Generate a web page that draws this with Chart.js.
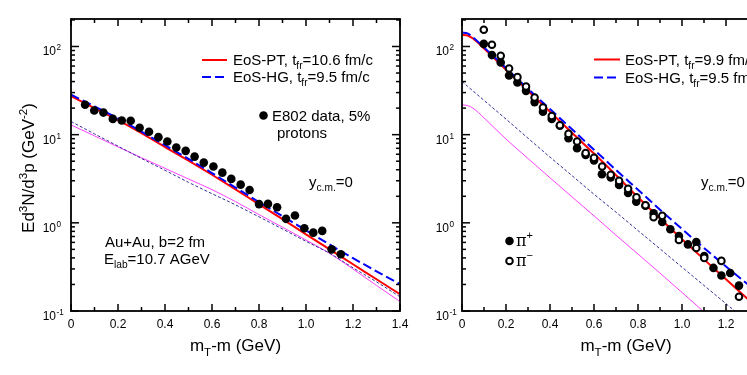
<!DOCTYPE html>
<html>
<head>
<meta charset="utf-8">
<script src="https://cdn.jsdelivr.net/npm/chart.js@4.4.0/dist/chart.umd.min.js"></script>
<style>
    body { margin: 0; background: #fff; overflow: hidden; width: 747px; height: 375px; position: relative; }
    canvas { position: absolute; top: 0; }
    #protonChart { left: 0; }
    #pionChart { left: 420px; }
</style>
</head>
<body>
<canvas id="protonChart" width="440" height="375"></canvas>
<canvas id="pionChart" width="400" height="375"></canvas>
<script>
// --- sol panel: protonlar (E802) ---
const protonMt = [0.060, 0.099, 0.138, 0.178, 0.216, 0.254, 0.292, 0.332, 0.372, 0.410, 0.448, 0.488, 0.526, 0.565, 0.606,
    0.644, 0.682, 0.722, 0.760, 0.800, 0.838, 0.877, 0.915, 0.953, 0.993, 1.031, 1.069, 1.109, 1.148];
const protonYield = [21.8, 18.8, 17.8, 15.1, 14.5, 14.4, 12.0, 10.8, 9.37, 8.35, 7.14, 6.55, 5.64, 4.82, 4.35,
    3.71, 3.15, 2.71, 2.36, 1.63, 1.64, 1.50, 1.11, 1.21, 0.869, 0.774, 0.81, 0.50, 0.44];

const curveMtL = [0, 0.1, 0.2, 0.3, 0.4, 0.5, 0.6, 0.7, 0.8, 0.9, 1.0, 1.1, 1.2, 1.3, 1.4];
const ptLeft = [27.4, 20.0, 14.6, 10.4, 7.24, 5.07, 3.51, 2.40, 1.62, 1.10, 0.741, 0.501, 0.339, 0.229, 0.155];
const hgLeft = [28.5, 20.9, 15.3, 10.8, 7.59, 5.31, 3.67, 2.51, 1.72, 1.19, 0.822, 0.569, 0.398, 0.282, 0.202];
const thinBlueLeft = [14.1, 10.2, 7.41, 5.37, 3.94, 2.88, 2.14, 1.60, 1.17, 0.851, 0.617, 0.452, 0.309, 0.214, 0.145];
const magentaLeft = [12.9, 9.68, 7.26, 5.48, 4.15, 3.14, 2.38, 1.74, 1.24, 0.891, 0.638, 0.452, 0.299, 0.195, 0.128];

// --- sağ panel: pionlar ---
const piPlusMt = [0.099, 0.136, 0.176, 0.214, 0.252, 0.291, 0.330, 0.368, 0.408, 0.445, 0.484, 0.523, 0.562, 0.600, 0.636,
    0.676, 0.714, 0.755, 0.792, 0.834, 0.871, 0.910, 0.947, 0.986, 1.027, 1.065, 1.101, 1.143, 1.179, 1.219, 1.259];
const piPlusYield = [107, 79.9, 65.8, 46.9, 39.0, 31.4, 23.4, 18.2, 15.1, 12.6, 9.12, 7.03, 5.90, 5.11, 3.56,
    3.28, 2.69, 2.18, 1.74, 1.56, 1.28, 1.02, 0.846, 0.710, 0.569, 0.607, 0.42, 0.308, 0.253, 0.270, 0.194];
const piMinusMt = [0.099, 0.136, 0.176, 0.214, 0.252, 0.291, 0.330, 0.368, 0.408, 0.445, 0.484, 0.523, 0.562, 0.600, 0.637,
    0.676, 0.714, 0.755, 0.793, 0.834, 0.871, 0.910, 0.986, 1.065, 1.101, 1.179, 1.259];
const piMinusYield = [155, 104.5, 78.3, 56.2, 44.9, 35.2, 26.4, 20.3, 16.3, 12.8, 10.2, 8.36, 6.17, 5.46, 4.35,
    3.50, 2.99, 2.43, 1.95, 1.58, 1.16, 1.20, 0.64, 0.519, 0.40, 0.370, 0.145];

const curveMtR = [0, 0.025, 0.05, 0.1, 0.2, 0.3, 0.4, 0.5, 0.6, 0.7, 0.8, 0.9, 1.0, 1.1, 1.2, 1.3, 1.4];
const ptRight = [136, 133, 123, 94.6, 54.6, 31.5, 18.2, 10.5, 6.10, 3.47, 1.95, 1.12, 0.653, 0.385, 0.229, 0.136, 0.0813];
const hgRight = [144, 141, 127, 97.7, 56.9, 33.1, 19.5, 11.5, 6.76, 3.98, 2.37, 1.41, 0.851, 0.519, 0.320, 0.200, 0.126];
const thinBlueRight = [40.1, 35.4, 31.3, 24.5, 15.0, 9.12, 5.56, 3.43, 2.11, 1.32, 0.817, 0.507, 0.314, 0.195, 0.121, 0.075, 0.0468];
const magentaRight = [21.8, 21.4, 20.0, 15.5, 8.91, 5.37, 3.24, 1.97, 1.20, 0.724, 0.442, 0.269, 0.162, 0.0977, 0.0589, 0.0355, 0.0214];

// eksen etiketleri
const xTickLabels = ['0', '0.2', '0.4', '0.6', '0.8', '1.0', '1.2', '1.4'];
const yTickExp = ['-1', '0', '1', '2'];

const SANS = '"Liberation Sans", Arial, sans-serif';
const RED = '#ff0000', BLUE = '#0000ff', NAVY = '#30309a', MAGENTA = '#ff40ff';

function pts(xs, ys) {
    return xs.map((x, i) => ({ x: x, y: ys[i] }));
}

// alt/üst simgeli metin
function richWidth(ctx, parts, size) {
    let w = 0;
    parts.forEach(p => {
        ctx.font = (p[1] ? size * 0.68 : size) + 'px ' + (p[2] || SANS);
        w += ctx.measureText(p[0]).width;
    });
    return w;
}

function drawRich(ctx, parts, x, y, size, align) {
    let cx = x;
    if (align === 'right') cx = x - richWidth(ctx, parts, size);
    if (align === 'center') cx = x - richWidth(ctx, parts, size) / 2;
    ctx.textAlign = 'left';
    ctx.textBaseline = 'alphabetic';
    parts.forEach(p => {
        ctx.font = (p[1] ? size * 0.68 : size) + 'px ' + (p[2] || SANS);
        let dy = 0;
        if (p[1] === 'sub') dy = size * 0.28;
        if (p[1] === 'sup') dy = -size * 0.42;
        ctx.fillText(p[0], cx, y + dy);
        cx += ctx.measureText(p[0]).width;
    });
}

function seg(ctx, x1, y1, x2, y2) {
    ctx.beginPath();
    ctx.moveTo(x1, y1);
    ctx.lineTo(x2, y2);
    ctx.stroke();
}

function drawAxes(chart, labelGap) {
    const ctx = chart.ctx;
    const a = chart.chartArea;
    const x = chart.scales.x, y = chart.scales.y;
    ctx.save();
    ctx.fillStyle = '#000';
    ctx.strokeStyle = '#000';
    ctx.lineWidth = 1.5;
    // x tikleri
    for (let i = 0; i <= 15; i++) {
        const v = i / 10;
        if (v > x.max + 1e-9) break;
        const px = x.getPixelForValue(v);
        const len = i % 2 === 0 ? 7 : 4;
        seg(ctx, px, a.bottom, px, a.bottom - len);
        seg(ctx, px, a.top, px, a.top + len);
    }
    xTickLabels.forEach((t, i) => {
        const px = x.getPixelForValue(i * 0.2);
        drawRich(ctx, [[t]], px, 328, 12, 'center');
    });
    // y tikleri (log)
    for (let d = -1; d <= 2; d++) {
        for (let m = 1; m <= 9; m++) {
            const v = m * Math.pow(10, d);
            if (v > y.max) break;
            const py = y.getPixelForValue(v);
            const len = m === 1 ? 8 : 4;
            seg(ctx, a.left, py, a.left + len, py);
            seg(ctx, a.right, py, a.right - len, py);
        }
    }
    yTickExp.forEach((e, i) => {
        const py = y.getPixelForValue(Math.pow(10, i - 1));
        const right = a.left - labelGap;
        drawRich(ctx, [['10']], right, py + 9, 12, 'right');
        drawRich(ctx, [[e, 'sup']], right + 0.5, py + 9, 12, 'left');
    });
    ctx.lineWidth = 1.8;
    ctx.strokeRect(a.left, a.top, a.right - a.left, a.bottom - a.top);
    ctx.restore();
}

function legendLine(ctx, x1, x2, y, color, dash) {
    ctx.save();
    ctx.strokeStyle = color;
    ctx.lineWidth = 2;
    ctx.setLineDash(dash);
    seg(ctx, x1, y, x2, y);
    ctx.restore();
}

function dot(ctx, x, y, r, open) {
    ctx.save();
    ctx.beginPath();
    ctx.arc(x, y, r, 0, Math.PI * 2);
    if (open) {
        ctx.fillStyle = '#fff';
        ctx.fill();
        ctx.lineWidth = 2;
        ctx.strokeStyle = '#000';
        ctx.stroke();
    } else {
        ctx.fillStyle = '#000';
        ctx.fill();
    }
    ctx.restore();
}

function curve(data, color, width, dash, order) {
    return {
        data: data, showLine: true, pointRadius: 0, borderColor: color, borderWidth: width,
        borderDash: dash, fill: false, order: order
    };
}

function makeChart(id, padding, xMax, datasets, notes) {
    return new Chart(document.getElementById(id), {
        type: 'scatter',
        data: { datasets: datasets },
        options: {
            responsive: false,
            animation: false,
            devicePixelRatio: 1,
            layout: { padding: padding },
            plugins: { legend: { display: false }, tooltip: { enabled: false } },
            elements: { line: { cubicInterpolationMode: 'monotone' } },
            scales: {
                x: { type: 'linear', min: 0, max: xMax, display: false },
                y: { type: 'logarithmic', min: 0.1, max: 205, display: false }
            }
        },
        plugins: [{ id: 'frame', afterDraw: c => notes(c) }]
    });
}

// sol grafik
makeChart('protonChart', { left: 71, right: 40, top: 19, bottom: 64 }, 1.4, [
    { data: pts(protonMt, protonYield), pointRadius: 4.3, backgroundColor: '#000', borderWidth: 0, order: 0 },
    curve(pts(curveMtL, magentaLeft), MAGENTA, 1, [], 4),
    curve(pts(curveMtL, thinBlueLeft), NAVY, 1, [3, 2], 3),
    curve(pts(curveMtL, ptLeft), RED, 2, [], 2),
    curve(pts(curveMtL, hgLeft), BLUE, 2, [9, 4], 1)
], c => {
    const ctx = c.ctx;
    drawAxes(c, 15);
    ctx.fillStyle = '#000';
    legendLine(ctx, 202, 227, 60, RED, []);
    drawRich(ctx, [['EoS-PT, t'], ['fr', 'sub'], ['=10.6 fm/c']], 233, 65, 15);
    legendLine(ctx, 202, 227, 77, BLUE, [9, 4]);
    drawRich(ctx, [['EoS-HG, t'], ['fr', 'sub'], ['=9.5 fm/c']], 233, 82, 15);
    dot(ctx, 263.5, 115.5, 4.3, false);
    drawRich(ctx, [['E802 data, 5%']], 272, 121, 15);
    drawRich(ctx, [['protons']], 277, 137.5, 15);
    drawRich(ctx, [['y'], ['c.m.', 'sub'], ['=0']], 309, 187, 15);
    drawRich(ctx, [['Au+Au, b=2 fm']], 105, 247, 15);
    drawRich(ctx, [['E'], ['lab', 'sub'], ['=10.7 AGeV']], 104, 264, 15);
    drawRich(ctx, [['m'], ['T', 'sub'], ['-m (GeV)']], (c.chartArea.left + c.chartArea.right) / 2, 351, 17, 'center');
    ctx.save();
    ctx.translate(34, 168);
    ctx.rotate(-Math.PI / 2);
    drawRich(ctx, [['Ed'], ['3', 'sup'], ['N/d'], ['3', 'sup'], ['p (GeV'], ['-2', 'sup'], [')']], 0, 0, 17, 'center');
    ctx.restore();
});

// sağ grafik
makeChart('pionChart', { left: 42, right: 28, top: 19, bottom: 64 }, 1.5, [
    { data: pts(piMinusMt, piMinusYield), pointRadius: 3.3, backgroundColor: '#fff', borderColor: '#000', borderWidth: 2, order: 0 },
    { data: pts(piPlusMt, piPlusYield), pointRadius: 4.3, backgroundColor: '#000', borderWidth: 0, order: 1 },
    curve(pts(curveMtR, magentaRight), MAGENTA, 1, [], 5),
    curve(pts(curveMtR, thinBlueRight), NAVY, 1, [3, 2], 4),
    curve(pts(curveMtR, ptRight), RED, 2, [], 3),
    curve(pts(curveMtR, hgRight), BLUE, 2, [9, 4], 2)
], c => {
    const ctx = c.ctx;
    const ox = 420;
    drawAxes(c, 13);
    ctx.fillStyle = '#000';
    legendLine(ctx, 594 - ox, 620 - ox, 59.5, RED, []);
    drawRich(ctx, [['EoS-PT, t'], ['fr', 'sub'], ['=9.9 fm/c']], 625 - ox, 65, 15);
    legendLine(ctx, 594 - ox, 620 - ox, 77.5, BLUE, [9, 4]);
    drawRich(ctx, [['EoS-HG, t'], ['fr', 'sub'], ['=9.5 fm/c']], 625 - ox, 82.5, 15);
    drawRich(ctx, [['y'], ['c.m.', 'sub'], ['=0']], 701 - ox, 187, 15);
    dot(ctx, 509.5 - ox, 241, 4.3, false);
    drawRich(ctx, [['π', '', '"DejaVu Serif", serif'], ['+', 'sup']], 516 - ox, 246, 16);
    dot(ctx, 509.5 - ox, 261, 3.3, true);
    drawRich(ctx, [['π', '', '"DejaVu Serif", serif'], ['−', 'sup']], 516 - ox, 266, 16);
    drawRich(ctx, [['m'], ['T', 'sub'], ['-m (GeV)']], 626 - ox, 351, 17, 'center');
});
</script>
</body>
</html>
